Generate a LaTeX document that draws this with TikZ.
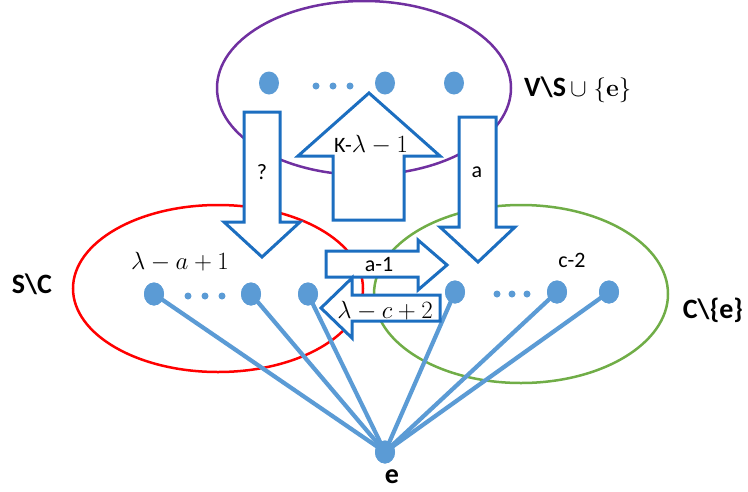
\documentclass[tikz,border=0pt]{standalone}
\usepackage[no-math]{fontspec}
\setmainfont{Carlito}
\usetikzlibrary{shapes.geometric}
\definecolor{dotblue}{HTML}{5B9BD5}
\definecolor{arrblue}{HTML}{1C6EC0}
\definecolor{setpurple}{HTML}{7030A0}
\definecolor{setred}{HTML}{FF0000}
\definecolor{setgreen}{HTML}{70AD47}
\begin{document}
\begin{tikzpicture}[x=1pt,y=-1pt,
 vert/.style={ellipse, fill=dotblue, minimum width=20pt, minimum height=23pt, inner sep=0pt},
 tinydot/.style={circle, fill=dotblue, minimum size=7pt, inner sep=0pt},
 setline/.style={line width=2.5pt},
 blockarrow/.style={draw=arrblue, fill=white, line width=3pt, line join=miter},
 edgeline/.style={draw=dotblue, line width=4.2pt},
 lbl/.style={font=\fontsize{22}{26}\selectfont, inner sep=0pt},
 mlbl/.style={font=\fontsize{26}{30}\selectfont, inner sep=0pt},
 setlbl/.style={font=\fontsize{28}{32}\selectfont\bfseries, inner sep=0pt}]
\useasboundingbox (0,0) rectangle (748,491);

% sets
\draw[setpurple, setline] (364,88) ellipse [x radius=147, y radius=87];
\draw[setred, setline] (218,288.5) ellipse [x radius=145, y radius=83.5];
\draw[setgreen, setline] (521,294) ellipse [x radius=147, y radius=89];

% vertices
\node[vert] (t1) at (269,83) {};
\node[vert] (t2) at (385,83) {};
\node[vert] (t3) at (454,83) {};
\node[tinydot] (td1) at (316,86) {};
\node[tinydot] (td2) at (333,86) {};
\node[tinydot] (td3) at (350,86) {};

\node[vert] (l1) at (154,294) {};
\node[vert] (l2) at (251,294) {};
\node[vert] (l3) at (308,294) {};
\node[tinydot] (ld1) at (188,296) {};
\node[tinydot] (ld2) at (205,296) {};
\node[tinydot] (ld3) at (222,296) {};

\node[vert] (r1) at (455,292) {};
\node[vert] (r2) at (557,292) {};
\node[vert] (r3) at (609,292) {};
\node[tinydot] (rd1) at (497,294) {};
\node[tinydot] (rd2) at (512,294) {};
\node[tinydot] (rd3) at (527,294) {};

\node[vert] (e) at (385,452) {};

% edges to e
\foreach \v in {l1,l2,l3,r1,r2,r3}
  \draw[edgeline] (e.center) -- (\v.center);
\foreach \v in {l1,l2,l3,r1,r2,r3,e}
  \node[vert] at (\v) {};

% block arrows
\draw[blockarrow] (244,112) -- (280,112) -- (280,222) -- (300,222) -- (262,257) -- (224,222) -- (244,222) -- cycle;
\draw[blockarrow] (369,93) -- (440,156) -- (404,156) -- (404,220) -- (333,220) -- (333,156) -- (298,156) -- cycle;
\draw[blockarrow] (459,117) -- (496,117) -- (496,227) -- (515,227) -- (478,262) -- (440,227) -- (459,227) -- cycle;
\draw[blockarrow] (326,251) -- (418,251) -- (418,240) -- (447,265) -- (418,290) -- (418,277) -- (326,277) -- cycle;
\draw[blockarrow] (321,308) -- (352,278) -- (352,295) -- (440,295) -- (440,321) -- (352,321) -- (352,338) -- cycle;

% labels
\node[lbl] (q) at (262,172) {?};
\node[lbl] (la) at (477,172) {a};
\node[lbl] (lk) at (371,145) {K-{\fontsize{25}{28}\selectfont$\lambda-1$}};
\node[lbl] (la1) at (379,264) {a-1};
\node[mlbl] (lc2) at (385,311) {$\lambda-c+2$};
\node[mlbl] (lla) at (180,262) {$\lambda-a+1$};
\node[lbl] (lc) at (572,260) {c-2};

\node[setlbl, anchor=west] (vs) at (524,90) {V\textbackslash S{\mdseries$\,\cup\;\{\mathbf{e}\}$}};
\node[setlbl] (sc) at (32,284) {S\textbackslash C};
\node[setlbl] (ce) at (713,310) {C\textbackslash\{e\}};
\node[setlbl] (el) at (392,477) {e};
\end{tikzpicture}
\end{document}
